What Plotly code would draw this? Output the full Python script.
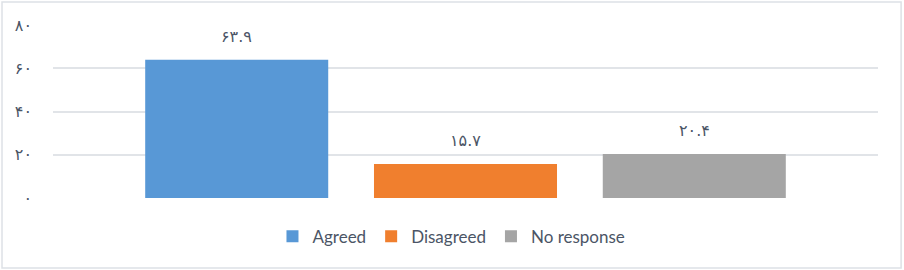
import plotly.graph_objects as go

# ---- data ----
categories = ["Agreed", "Disagreed", "No response"]
values = [63.9, 15.7, 20.4]
value_labels = ["۶۳.۹", "۱۵.۷", "۲۰.۴"]
tick_values = [0, 20, 40, 60, 80]
tick_labels = ["۰", "۲۰", "۴۰", "۶۰", "۸۰"]
colors = ["#5898d6", "#f07f2e", "#a5a5a5"]

TEXT = "#4b5566"
FONT = "Lato, 'DejaVu Sans', sans-serif"
NUMFONT = "'DejaVu Sans', sans-serif"

fig = go.Figure()
for cat, val, col in zip(categories, values, colors):
    fig.add_trace(go.Bar(
        x=[cat], y=[val], name=cat, width=0.8,
        marker=dict(color=col, line=dict(width=0)),
    ))

for cat, val, lab in zip(categories, values, value_labels):
    fig.add_annotation(
        x=cat, y=val, text=lab, showarrow=False,
        yanchor="bottom", yshift=12,
        font=dict(family=NUMFONT, size=16, color=TEXT),
    )

# outer border
fig.add_shape(type="rect", xref="paper", yref="paper",
              x0=-0.0618, x1=1.028, y0=-0.405, y1=1.133,
              line=dict(color="#dde1e6", width=1.5), fillcolor="rgba(0,0,0,0)", layer="below")

fig.update_layout(
    width=904, height=270,
    margin=dict(l=53, r=26, t=25, b=72),
    paper_bgcolor="white", plot_bgcolor="white",
    barmode="overlay",
    showlegend=True,
    legend=dict(orientation="h", x=0.483, xanchor="center", y=-0.12, yanchor="top",
                font=dict(family=FONT, size=17, color=TEXT),
                itemclick=False, traceorder="normal", itemwidth=30),
    xaxis=dict(type="category", range=[-0.803, 2.803], showticklabels=False,
               showgrid=False, zeroline=False, showline=False),
    yaxis=dict(range=[0, 80], tickvals=tick_values, ticktext=tick_labels,
               showgrid=True, gridcolor="#e1e4e8", gridwidth=1.5,
               zeroline=False, showline=False, ticklabelstandoff=20,
               tickfont=dict(family=NUMFONT, size=16, color=TEXT)),
)

fig.write_html("out.html")
